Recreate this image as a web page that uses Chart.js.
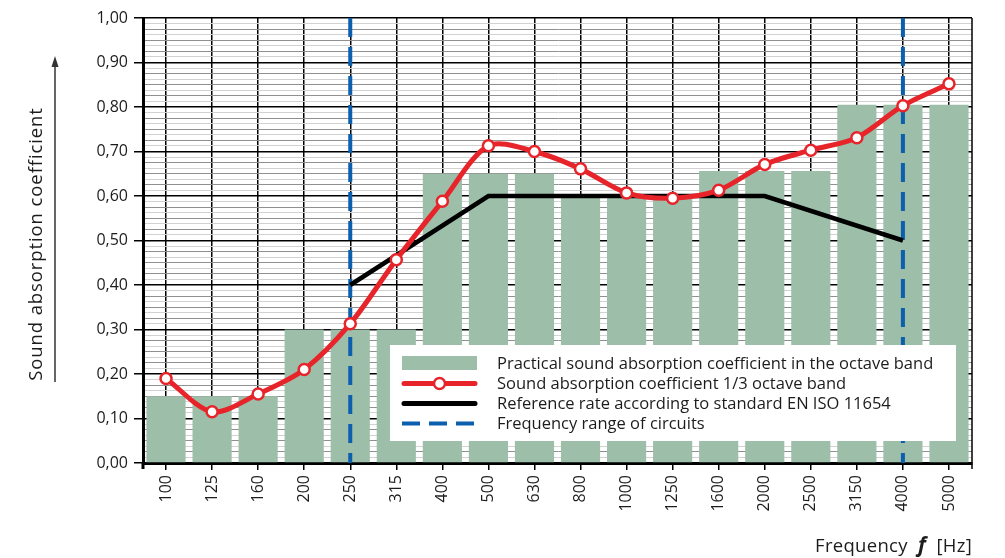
<!DOCTYPE html>
<html>
<head>
<meta charset="utf-8">
<script src="https://cdn.jsdelivr.net/npm/chart.js@4/dist/chart.umd.min.js"></script>
<style>
  html, body { margin: 0; padding: 0; background: #fff; }
  #wrap { width: 1005px; height: 558px; }
</style>
</head>
<body>
<div id="wrap"><canvas id="chart"></canvas></div>
<script>
// data
const bands = ['100', '125', '160', '200', '250', '315', '400', '500', '630', '800',
  '1000', '1250', '1600', '2000', '2500', '3150', '4000', '5000'];
const octaveBand = [0.15, 0.15, 0.15, 0.30, 0.30, 0.30, 0.65, 0.65, 0.65, 0.60,
  0.60, 0.60, 0.656, 0.656, 0.656, 0.805, 0.805, 0.805];
const thirdOctave = [0.19, 0.115, 0.155, 0.21, 0.313, 0.457, 0.588, 0.713, 0.70, 0.661,
  0.607, 0.595, 0.613, 0.671, 0.703, 0.731, 0.803, 0.852];
const referenceRate = [null, null, null, null, 0.40, null, null, 0.60, null, null,
  null, null, null, 0.60, null, null, 0.50, null];
const rangeBands = ['250', '4000'];
const legendLabels = [
  'Practical sound absorption coefficient in the octave band',
  'Sound absorption coefficient 1/3 octave band',
  'Reference rate according to standard EN ISO 11654',
  'Frequency range of circuits'
];

const green = '#9dbea9';
const red = '#e8242b';
const black = '#000000';
const blue = '#0b5fae';
const textColor = '#1c1c1c';
const font = '"Open Sans", sans-serif';

Chart.defaults.font.family = font;
Chart.defaults.font.size = 16;
Chart.defaults.color = textColor;

function isMajor(v) {
  return Math.abs(v * 10 - Math.round(v * 10)) < 1e-6;
}
function isMid(v) {
  return Math.abs(v * 40 - Math.round(v * 40)) < 1e-6;
}

// dashed frequency range markers, one line dataset each
const rangeSets = rangeBands.map(function(b) {
  return {
    type: 'line',
    data: [{ x: b, y: 1 }, { x: b, y: 0 }],
    borderColor: blue,
    borderWidth: 4,
    borderDash: [19, 10],
    pointRadius: 0,
    order: 3
  };
});

const decor = {
  id: 'decor',
  afterDraw(chart) {
    const ctx = chart.ctx;
    const a = chart.chartArea;
    ctx.save();

    // right frame edge + axis stubs below
    ctx.strokeStyle = black;
    ctx.lineWidth = 1.5;
    ctx.beginPath();
    ctx.moveTo(a.right, a.top);
    ctx.lineTo(a.right, a.bottom + 6);
    ctx.stroke();
    ctx.lineWidth = 3;
    ctx.beginPath();
    ctx.moveTo(a.left, a.bottom);
    ctx.lineTo(a.left, a.bottom + 6);
    ctx.stroke();

    // legend box
    const bx = 390, by = 345, bw = 566, bh = 96;
    ctx.fillStyle = '#fff';
    ctx.fillRect(bx, by, bw, bh);
    const rows = [363, 383.5, 403.5, 423.5];
    const sx = 402, ex = 477;
    ctx.font = '16.5px ' + font;
    ctx.fillStyle = textColor;
    ctx.textBaseline = 'middle';
    ctx.textAlign = 'left';
    legendLabels.forEach(function(t, i) {
      ctx.fillText(t, 497, rows[i] + 1);
    });
    ctx.fillStyle = green;
    ctx.fillRect(sx, rows[0] - 7, ex - sx, 14);
    ctx.lineCap = 'round';
    ctx.lineWidth = 5;
    ctx.strokeStyle = red;
    ctx.beginPath();
    ctx.moveTo(sx + 2, rows[1]);
    ctx.lineTo(ex - 2, rows[1]);
    ctx.stroke();
    ctx.beginPath();
    ctx.arc((sx + ex) / 2, rows[1], 5.5, 0, Math.PI * 2);
    ctx.fillStyle = '#fff';
    ctx.fill();
    ctx.lineWidth = 2.5;
    ctx.stroke();
    ctx.lineWidth = 5;
    ctx.strokeStyle = black;
    ctx.beginPath();
    ctx.moveTo(sx + 2, rows[2]);
    ctx.lineTo(ex - 2, rows[2]);
    ctx.stroke();
    ctx.lineCap = 'butt';
    ctx.strokeStyle = blue;
    ctx.lineWidth = 4;
    ctx.setLineDash([18, 9]);
    ctx.beginPath();
    ctx.moveTo(sx, rows[3]);
    ctx.lineTo(ex, rows[3]);
    ctx.stroke();
    ctx.setLineDash([]);

    // y title with arrow
    ctx.save();
    ctx.translate(37, 244);
    ctx.rotate(-Math.PI / 2);
    ctx.font = '18.5px ' + font;
    ctx.letterSpacing = '0.9px';
    ctx.fillStyle = textColor;
    ctx.textAlign = 'center';
    ctx.textBaseline = 'middle';
    ctx.fillText('Sound absorption coefficient', 0, 0);
    ctx.restore();
    ctx.strokeStyle = '#333';
    ctx.lineWidth = 1.5;
    ctx.beginPath();
    ctx.moveTo(55, 382);
    ctx.lineTo(55, 64);
    ctx.stroke();
    ctx.fillStyle = '#333';
    ctx.beginPath();
    ctx.moveTo(55, 56);
    ctx.lineTo(51.5, 67);
    ctx.lineTo(58.5, 67);
    ctx.closePath();
    ctx.fill();

    // x title
    ctx.textBaseline = 'alphabetic';
    ctx.textAlign = 'left';
    ctx.fillStyle = textColor;
    ctx.letterSpacing = '0.3px';
    const p1 = 'Frequency  ', p2 = 'f', p3 = '  [Hz]';
    const f1 = '18.5px ' + font, f2 = 'italic bold 21px ' + font;
    ctx.font = f1;
    const w1 = ctx.measureText(p1).width, w3 = ctx.measureText(p3).width;
    ctx.font = f2;
    const w2 = ctx.measureText(p2).width;
    let x = a.right - (w1 + w2 + w3);
    ctx.font = f1; ctx.fillText(p1, x, 552); x += w1;
    ctx.font = f2; ctx.fillText(p2, x, 552); x += w2;
    ctx.font = f1; ctx.fillText(p3, x, 552);

    ctx.restore();
  }
};

new Chart(document.getElementById('chart'), {
  type: 'bar',
  data: {
    labels: bands,
    datasets: [{
      type: 'line',
      data: thirdOctave,
      borderColor: red,
      borderWidth: 5,
      tension: 0.3,
      pointRadius: 5.5,
      pointBorderWidth: 2.5,
      pointBackgroundColor: '#fff',
      pointBorderColor: red,
      order: 1
    }, {
      type: 'line',
      data: referenceRate,
      spanGaps: true,
      borderColor: black,
      borderWidth: 4.5,
      tension: 0,
      pointRadius: 0,
      order: 2
    }].concat(rangeSets).concat([{
      type: 'bar',
      data: octaveBand,
      backgroundColor: green,
      barPercentage: 0.85,
      categoryPercentage: 1,
      order: 4
    }])
  },
  options: {
    responsive: true,
    maintainAspectRatio: false,
    animation: false,
    layout: { padding: { top: 18, right: 33, left: 0, bottom: 0 } },
    plugins: {
      legend: { display: false },
      tooltip: { enabled: false }
    },
    scales: {
      x: {
        offset: true,
        grid: { offset: false, color: '#000', lineWidth: 1.5, tickLength: 7, tickColor: '#000' },
        border: { color: black, width: 3 },
        ticks: { minRotation: 90, maxRotation: 90, autoSkip: false, padding: 5 },
        afterFit: function(s) { s.height = 95; }
      },
      y: {
        min: 0,
        max: 1,
        grid: {
          color: function(c) {
            const v = c.tick.value;
            return isMajor(v) ? '#000' : (isMid(v) ? '#909090' : '#d2d2d2');
          },
          lineWidth: function(c) { return isMajor(c.tick.value) ? 1.5 : 1; },
          tickColor: function(c) { return isMajor(c.tick.value) ? '#000' : 'rgba(0,0,0,0)'; },
          tickLength: 9
        },
        border: { color: black, width: 3 },
        ticks: {
          stepSize: 0.0125,
          autoSkip: false,
          padding: 6,
          callback: function(v) { return isMajor(v) ? v.toFixed(2).replace('.', ',') : ''; }
        },
        afterFit: function(s) { s.width = 143; }
      }
    }
  },
  plugins: [decor]
});
</script>
</body>
</html>
